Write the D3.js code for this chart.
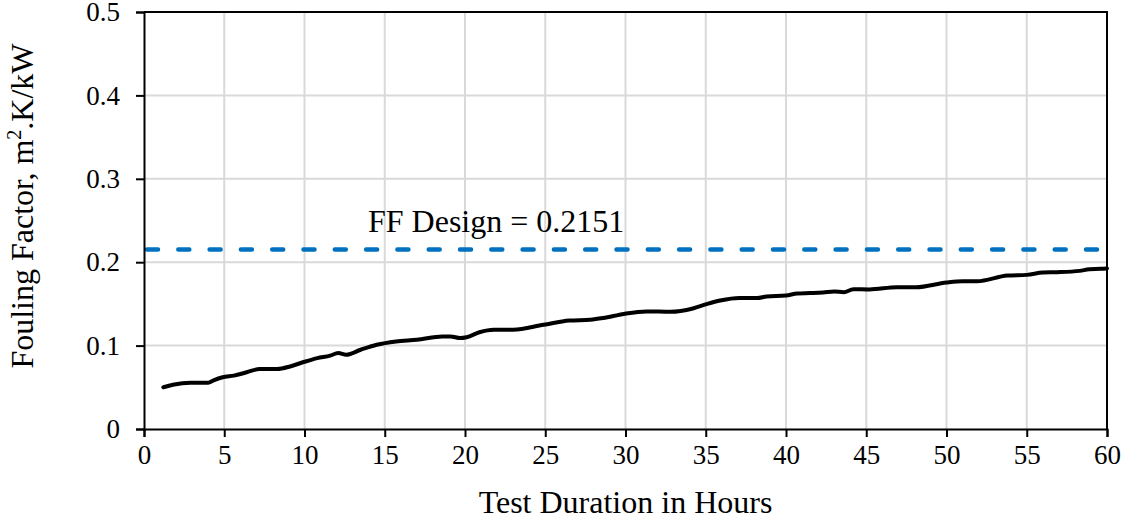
<!DOCTYPE html>
<html>
<head>
<meta charset="utf-8">
<script src="https://cdn.jsdelivr.net/npm/d3@7"></script>
<style>
  body { margin: 0; background: white; }
  svg { display: block; }
  svg text { font-family: "Liberation Serif", "Times New Roman", serif; fill: black; }
</style>
</head>
<body>
<div id="chart"></div>
<script>
const hours = [1.2, 1.8, 2.9, 4.0, 4.3, 4.9, 5.6, 6.4, 7.2, 8.3, 9.1, 9.9, 10.8, 11.6, 12.1, 12.6,
  13.5, 14.5, 15.7, 17.0, 18.6, 19.1, 19.7, 20.1, 20.9, 21.8, 23.0, 24.9, 26.5, 27.8, 28.6, 29.9,
  31.3, 32.8, 34.2, 35.1, 35.9, 37.1, 38.2, 38.8, 40.0, 40.7, 41.5, 42.3, 43.0, 43.6, 44.2, 45.2,
  46.9, 48.1, 50.0, 51.0, 51.9, 53.8, 55.0, 56.0, 56.9, 58.3, 58.9, 59.6, 60.0];
const foulingFactor = [0.050, 0.053, 0.0555, 0.0555, 0.058, 0.062, 0.064, 0.068, 0.072, 0.072,
  0.075, 0.080, 0.085, 0.088, 0.091, 0.089, 0.095, 0.101, 0.105, 0.107, 0.111, 0.111, 0.109, 0.110,
  0.116, 0.119, 0.119, 0.125, 0.130, 0.131, 0.133, 0.138, 0.141, 0.1405, 0.1445, 0.150, 0.154,
  0.157, 0.157, 0.159, 0.160, 0.1625, 0.163, 0.1637, 0.165, 0.164, 0.1677, 0.1673, 0.170, 0.170,
  0.1757, 0.1772, 0.1772, 0.184, 0.1848, 0.1876, 0.188, 0.1896, 0.1916, 0.192, 0.1925];
const designFF = 0.2151;
const designLabel = "FF Design = 0.2151";
const xTicks = [0, 5, 10, 15, 20, 25, 30, 35, 40, 45, 50, 55, 60];
const yTicks = [0, 0.1, 0.2, 0.3, 0.4, 0.5];

const width = 1135;
const height = 524;

const x = d3.scaleLinear([0, 60], [144, 1107]);
const y = d3.scaleLinear([0, 0.5], [429, 12]);

const svg = d3.select("#chart").append("svg")
  .attr("width", width)
  .attr("height", height);

// gridlines
svg.append("g")
  .selectAll("line")
  .data(xTicks.slice(1))
  .join("line")
  .attr("x1", d => x(d)).attr("x2", d => x(d))
  .attr("y1", y(0)).attr("y2", y(0.5))
  .attr("stroke", "#d9d9d9")
  .attr("stroke-width", 2);
svg.append("g")
  .selectAll("line")
  .data(yTicks.slice(1))
  .join("line")
  .attr("x1", x(0)).attr("x2", x(60))
  .attr("y1", d => y(d)).attr("y2", d => y(d))
  .attr("stroke", "#d9d9d9")
  .attr("stroke-width", 2);

// plot frame (top and right)
svg.append("path")
  .attr("d", `M${x(0)},${y(0.5)}H${x(60)}V${y(0)}`)
  .attr("fill", "none")
  .attr("stroke", "black")
  .attr("stroke-width", 2);

// design line
svg.append("line")
  .attr("x1", x(0) + 3).attr("x2", x(60))
  .attr("y1", y(designFF)).attr("y2", y(designFF))
  .attr("stroke", "#0070c0")
  .attr("stroke-width", 4.5)
  .attr("stroke-linecap", "round")
  .attr("stroke-dasharray", "11 20.3");

svg.append("text")
  .attr("x", 368)
  .attr("y", y(designFF) - 18)
  .style("font-size", "32px")
  .text(designLabel);

// measured fouling factor
const line = d3.line()
  .x((d, i) => x(hours[i]))
  .y(d => y(d))
  .curve(d3.curveMonotoneX);
svg.append("path")
  .attr("d", line(foulingFactor))
  .attr("fill", "none")
  .attr("stroke", "black")
  .attr("stroke-width", 4)
  .attr("stroke-linejoin", "round")
  .attr("stroke-linecap", "round");

// axes
const xAxis = svg.append("g")
  .attr("transform", `translate(0,${y(0)})`)
  .call(d3.axisBottom(x).tickValues(xTicks).tickFormat(d3.format("d")).tickSizeOuter(0).tickSize(8).tickPadding(8));
const yAxis = svg.append("g")
  .attr("transform", `translate(${x(0)},0)`)
  .call(d3.axisLeft(y).tickValues(yTicks).tickFormat(d => d === 0 ? "0" : d3.format(".1f")(d)).tickSizeOuter(0).tickSize(8).tickPadding(16));

[xAxis, yAxis].forEach(g => {
  g.attr("font-family", null).attr("font-size", null);
  g.select(".domain").attr("stroke", "black").attr("stroke-width", 2);
  g.selectAll(".tick line").attr("stroke", "black").attr("stroke-width", 2);
  g.selectAll(".tick text").style("font-size", "27px");
});

svg.append("text")
  .attr("x", (x(0) + x(60)) / 2)
  .attr("y", 513)
  .attr("text-anchor", "middle")
  .style("font-size", "32px")
  .text("Test Duration in Hours");

const yTitle = svg.append("text")
  .attr("transform", "translate(33,206) rotate(-90)")
  .attr("text-anchor", "middle")
  .style("font-size", "32px");
yTitle.append("tspan").text("Fouling Factor, m");
yTitle.append("tspan").style("font-size", "20px").attr("dy", -12).text("2");
yTitle.append("tspan").attr("dy", 12).text(".K/kW");
</script>
</body>
</html>
